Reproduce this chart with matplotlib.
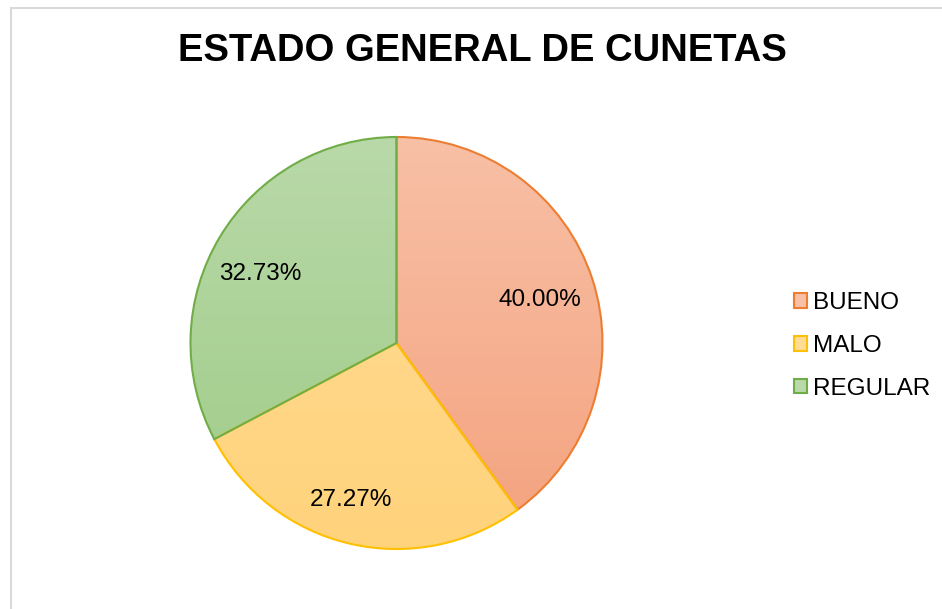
import matplotlib
matplotlib.use("Agg")
import matplotlib.pyplot as plt
import numpy as np
from matplotlib.patches import Patch, Rectangle
from matplotlib.colors import LinearSegmentedColormap

plt.rcParams['font.family'] = ['Liberation Sans', 'DejaVu Sans']

title = "ESTADO GENERAL DE CUNETAS"
categories = ["BUENO", "MALO", "REGULAR"]
percentages = [40.00, 27.27, 32.73]

fill_top = ["#F8C0A6", "#FFDC96", "#B9D9A9"]
fill_bottom = ["#F4A27E", "#FFD37C", "#9ECB86"]
edge_colors = ["#ED7D31", "#FFC000", "#70AD47"]

W, H = 942, 609
fig = plt.figure(figsize=(W / 100, H / 100), dpi=100)
ax = fig.add_axes([0, 0, 1, 1])

cx, cy, R = 396.5, H - 343, 206

wedges, texts, autotexts = ax.pie(
    percentages, startangle=90, counterclock=False, center=(cx, cy), radius=R,
    autopct='%.2f%%', pctdistance=0.75,
    wedgeprops=dict(linewidth=1.5), textprops=dict(fontsize=17.5, color='black'),
    frame=True)
ax.set_xlim(0, W)
ax.set_ylim(0, H)
ax.set_aspect('equal')
ax.axis('off')

for w, top, bot, ec in zip(wedges, fill_top, fill_bottom, edge_colors):
    w.set_facecolor('none')
    w.set_edgecolor(ec)
    w.set_zorder(3)
    cmap = LinearSegmentedColormap.from_list('g', [bot, top])
    grad = np.linspace(0, 1, 256).reshape(-1, 1)
    im = ax.imshow(grad, cmap=cmap, origin='lower', aspect='auto',
                   extent=(cx - R, cx + R, cy - R, cy + R), zorder=2,
                   interpolation='bilinear')
    im.set_clip_path(w)
for t in autotexts:
    t.set_zorder(5)

ax.set_xlim(0, W)
ax.set_ylim(0, H)

# Label placement tweaks (Excel-like positions)
label_offsets = [(143, 43), (-46, -157), (-136, 69)]
for t, (dx, dy) in zip(autotexts, label_offsets):
    t.set_position((cx + dx, cy + dy))

# border
ax.add_patch(Rectangle((10.5, -20), 1000, H - 7.5 + 20, fill=False,
                       edgecolor='#D9D9D9', linewidth=1.5, zorder=1))

fig.text(482 / W, 1 - 51 / H, title, ha='center', va='center',
         fontsize=27.5, fontweight='bold', color='black')

handles = [Patch(facecolor=t, edgecolor=e, linewidth=1.5) for t, e in zip(fill_top, edge_colors)]
leg = ax.legend(handles, categories, loc='center left',
                bbox_to_anchor=(794 / W, 1 - 346 / H), frameon=False,
                fontsize=17.5, handlelength=0.55, handleheight=0.55,
                handletextpad=0.25, labelspacing=0.85, borderaxespad=0,
                borderpad=0)

fig.savefig("out.png", dpi=100)
